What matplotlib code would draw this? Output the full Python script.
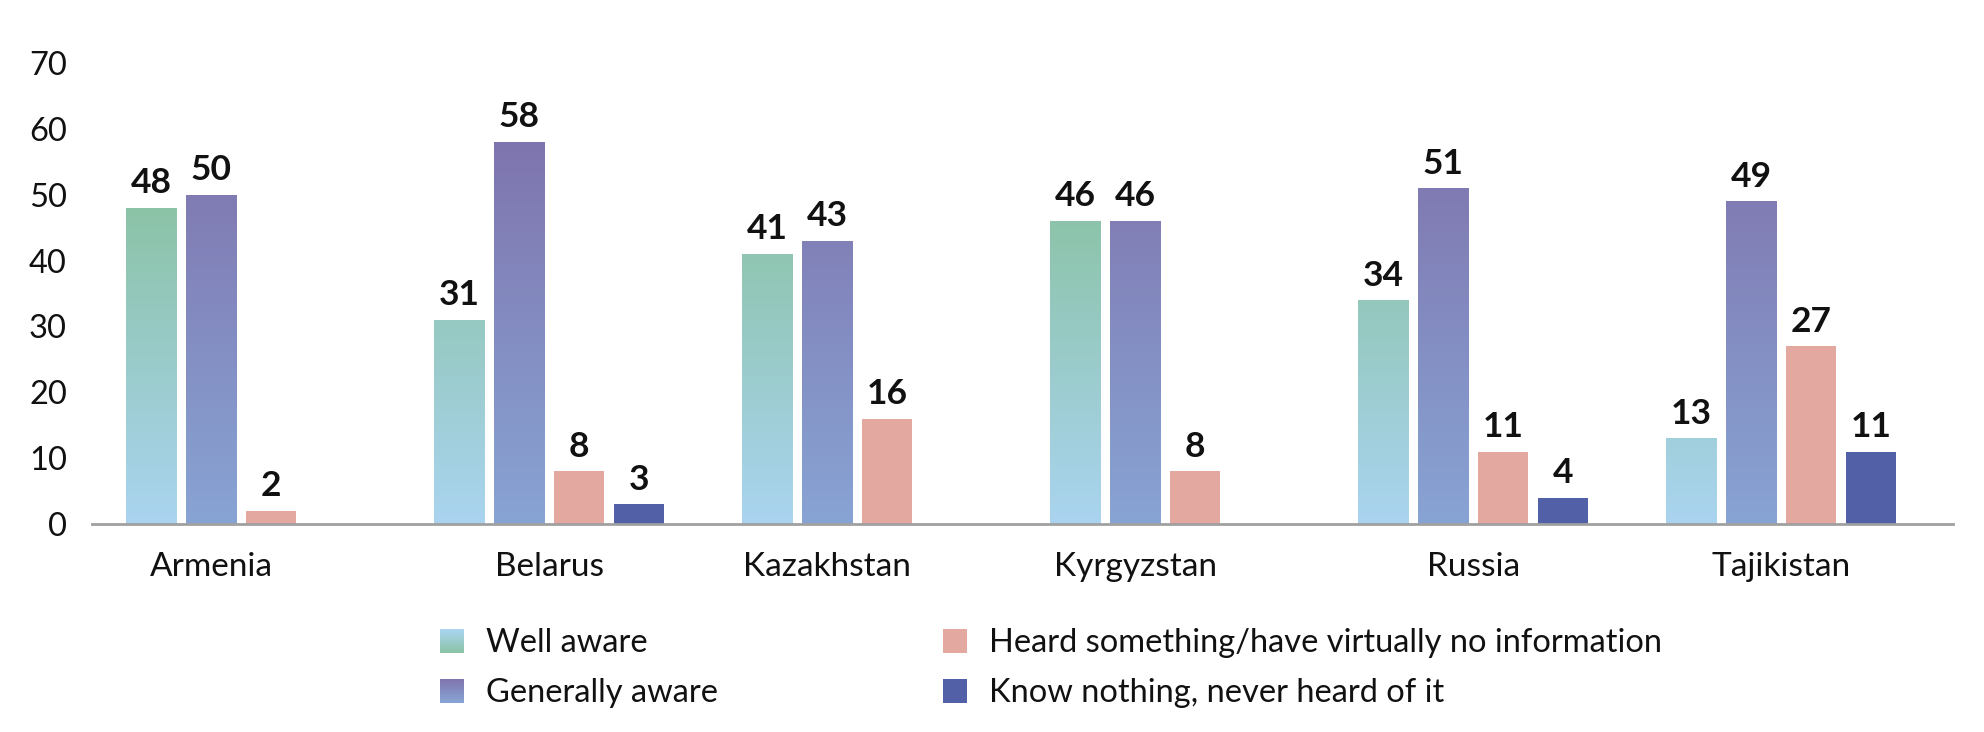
import numpy as np
import matplotlib
matplotlib.use('Agg')
import matplotlib.pyplot as plt
from matplotlib.colors import LinearSegmentedColormap
from matplotlib.patches import Rectangle
from matplotlib.legend_handler import HandlerBase

plt.rcParams['font.family'] = ['Lato', 'DejaVu Sans']

categories = ['Armenia', 'Belarus', 'Kazakhstan', 'Kyrgyzstan', 'Russia', 'Tajikistan']
well_aware = [48, 31, 41, 46, 34, 13]
generally_aware = [50, 58, 43, 46, 51, 49]
heard_something = [2, 8, 16, 8, 11, 27]
know_nothing = [None, 3, None, None, 4, 11]

series_names = ['Well aware', 'Generally aware',
                'Heard something/have virtually no information',
                'Know nothing, never heard of it']
series = [well_aware, generally_aware, heard_something, know_nothing]

# (bottom, top) for gradient bars, plain colour otherwise
bar_fills = [('#aad4f0', '#8bc3a7'), ('#88a4d4', '#7f75ae'), '#e3a8a0', '#5260a8']
legend_fills = [('#8bc3a7', '#aad4f0'), ('#88a4d4', '#7f75ae'), '#e3a8a0', '#5260a8']

pitch = 60 / 308
width = 50 / 308


class GradientHandler(HandlerBase):
    def __init__(self, bottom, top, steps=24):
        super().__init__()
        self.bottom = bottom
        self.top = top
        self.steps = steps

    def create_artists(self, legend, orig_handle, xdescent, ydescent,
                       width, height, fontsize, trans):
        cmap = LinearSegmentedColormap.from_list('lg', [self.bottom, self.top])
        h = height / self.steps
        arts = []
        for k in range(self.steps):
            r = Rectangle((-xdescent, -ydescent + k * h), width, h * 1.05,
                          facecolor=cmap(k / (self.steps - 1)), lw=0,
                          transform=trans)
            arts.append(r)
        return arts


fig = plt.figure(figsize=(19.84, 7.32), dpi=100)
ax = fig.add_axes([92 / 1984, 208 / 732, 1861 / 1984, 461 / 732])

tick_pos = []
for i, cat in enumerate(categories):
    present = [j for j in range(4) if series[j][i] is not None]
    tick_pos.append(i + (len(present) - 1) / 2 * pitch - 1.5 * pitch)
    for k, j in enumerate(present):
        v = series[j][i]
        xc = i + (k - 1.5) * pitch
        x0 = xc - width / 2
        fill = bar_fills[j]
        if isinstance(fill, tuple):
            rect = Rectangle((x0, 0), width, v, facecolor='none', lw=0)
            ax.add_patch(rect)
            cmap = LinearSegmentedColormap.from_list('g', list(fill))
            vmax = max(x for x in series[j] if x is not None)
            grad = np.linspace(0, 1, 256).reshape(-1, 1)
            im = ax.imshow(grad, cmap=cmap, origin='lower', aspect='auto',
                           extent=(x0, x0 + width, 0, vmax), interpolation='bilinear')
            im.set_clip_path(rect)
        else:
            ax.bar(xc, v, width=width, color=fill, lw=0)
        ax.text(xc, v + 1.3, str(v), ha='center', va='bottom',
                fontsize=25.5, fontweight='bold', color='#111111')

ax.set_xlim(-0.484, 5.558)
ax.set_ylim(0, 70)
ax.set_yticks(range(0, 71, 10))
ax.set_xticks(tick_pos)
ax.set_xticklabels(categories)
ax.tick_params(axis='y', length=0, pad=18, labelsize=23.5, labelcolor='#111111')
ax.tick_params(axis='x', length=0, pad=20, labelsize=24, labelcolor='#111111')
for s in ['left', 'right', 'top']:
    ax.spines[s].set_visible(False)
ax.spines['bottom'].set_color('#a0a0a0')
ax.spines['bottom'].set_linewidth(2)

handles = []
hmap = {}
for name, fill in zip(series_names, legend_fills):
    if isinstance(fill, tuple):
        p = Rectangle((0, 0), 1, 1, facecolor=fill[1], lw=0)
        hmap[p] = GradientHandler(fill[0], fill[1])
    else:
        p = Rectangle((0, 0), 1, 1, facecolor=fill, lw=0)
    handles.append(p)

fig.legend(handles, series_names, handler_map=hmap, ncol=2, frameon=False,
           loc='upper left', bbox_to_anchor=(440 / 1984, 104 / 732),
           fontsize=23.5, handlelength=0.75, handleheight=0.75, handletextpad=0.65,
           columnspacing=6.9, labelspacing=0.62, borderpad=0, borderaxespad=0,
           labelcolor='#111111')

fig.savefig('out.png', dpi=100)
